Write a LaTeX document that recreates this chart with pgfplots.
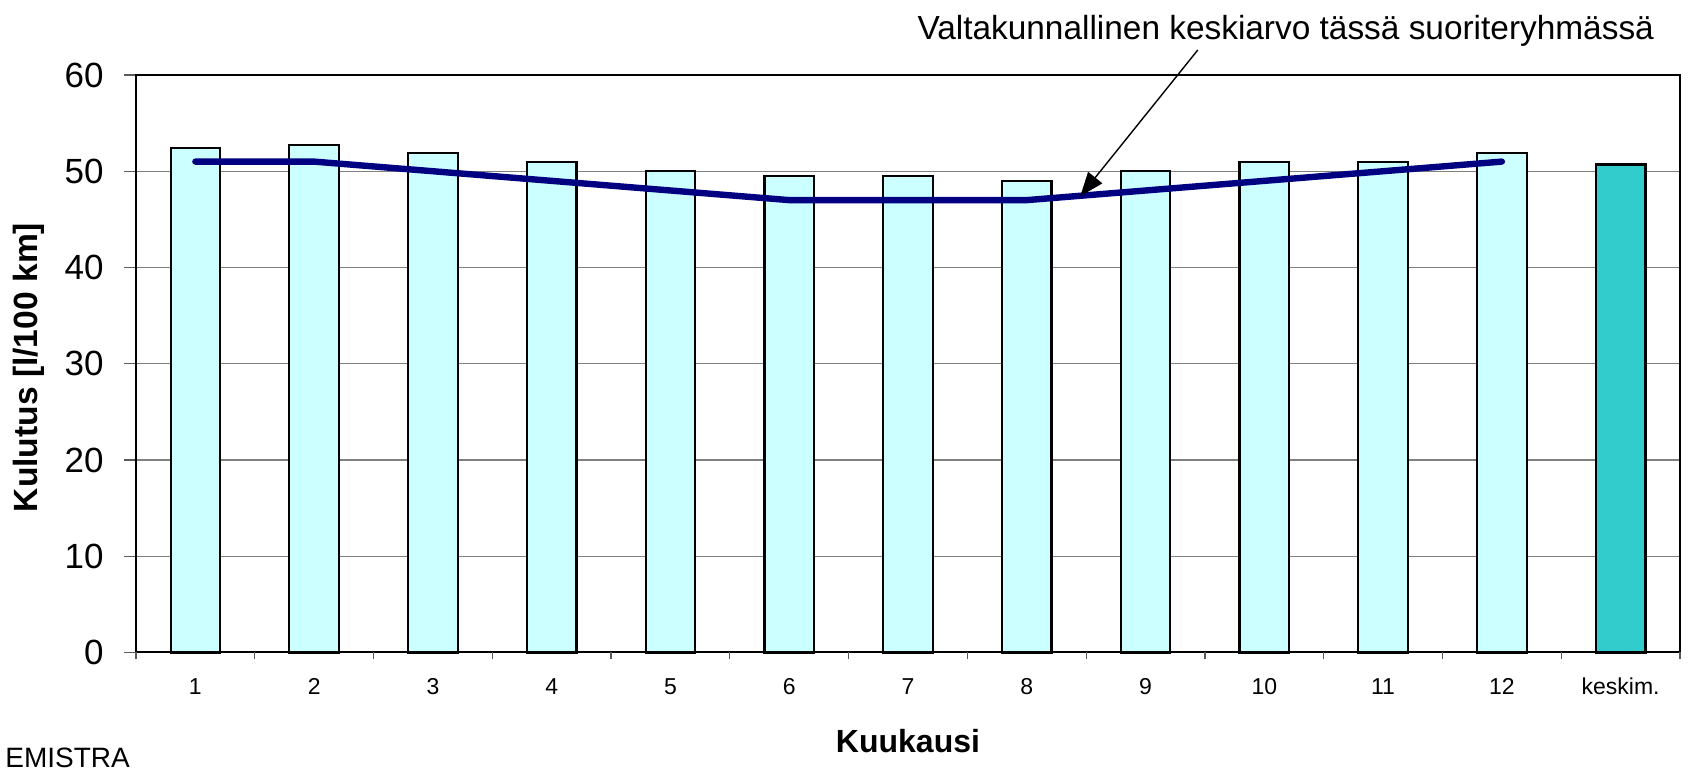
\documentclass[border=0pt]{standalone}
\usepackage{fontspec}
\setmainfont{Liberation Sans}
\usepackage{pgfplots}
\pgfplotsset{compat=1.18}
\usetikzlibrary{arrows.meta}
\definecolor{barlight}{RGB}{204,255,255}
\definecolor{bardark}{RGB}{51,204,204}
\definecolor{navyline}{RGB}{0,0,128}
\definecolor{gridgray}{RGB}{128,128,128}

\begin{document}
\begin{tikzpicture}
\begin{axis}[
  name=ax,
  width=772pt, height=288.75pt, scale only axis,
  xmin=-0.5, xmax=12.5, ymin=0, ymax=60,
  clip=false,
  axis line style={black, line width=1pt},
  tick pos=left,
  xtick={0,...,12},
  xticklabels={1,2,3,4,5,6,7,8,9,10,11,12,keskim.},
  xtick style={draw=none},
  extra x ticks={-0.5,0.5,...,12.5},
  extra x tick labels={},
  extra x tick style={major tick length=3.5pt, xtick style={draw=gridgray!70!black, line width=0.6pt}, grid=none},
  ytick={0,10,...,60},
  ymajorgrids,
  major grid style={gridgray, line width=0.6pt},
  tick align=outside,
  major tick length=6pt,
  ytick style={draw=gridgray!70!black, line width=0.6pt},
  /pgf/number format/assume math mode=true,
  yticklabel style={font=\fontsize{17.5}{20}\selectfont, inner sep=0pt, anchor=east, xshift=-10pt},
  xticklabel style={font=\fontsize{11.5}{13}\selectfont, inner sep=0pt, anchor=base, yshift=-15.25pt},
]
\addplot[ybar, bar width=0.417, fill=barlight, draw=black, line width=1.1pt]
  coordinates {(0,52.4) (1,52.7) (2,51.9) (3,51.0) (4,50.0) (5,49.5) (6,49.5) (7,49.0) (8,50.0) (9,51.0) (10,51.0) (11,51.9)};
\addplot[ybar, bar width=0.417, fill=bardark, draw=black, line width=1.1pt]
  coordinates {(12,50.7)};
\addplot[navyline, line width=3.2pt, line cap=round, line join=round, mark=none]
  coordinates {(0,51) (1,51) (2,50) (3,49) (4,48) (5,47) (6,47) (7,47) (8,48) (9,49) (10,50) (11,51)};
\draw[-{Triangle[length=12pt,width=9pt]}, line width=0.7pt] (axis cs:8.44,62.6) -- (axis cs:7.45,47.4);
\node[anchor=base, inner sep=0pt, font=\fontsize{16.7}{20}\selectfont] at (axis cs:9.18,63.64) {Valtakunnallinen keskiarvo tässä suoriteryhmässä};
\end{axis}
\node[anchor=base, inner sep=0pt, font=\fontsize{16}{19}\selectfont\bfseries] at ([yshift=-50.25pt]ax.south) {Kuukausi};
\node[rotate=90, anchor=center, inner sep=0pt, font=\fontsize{16.8}{20}\selectfont\bfseries] at ([xshift=-53.5pt,yshift=-1.9pt]ax.west) {Kulutus [l/100 km]};
\node[anchor=base west, inner sep=0pt, font=\fontsize{14}{17}\selectfont] at ([xshift=-65.5pt,yshift=-57.75pt]ax.south west) {EMISTRA};
\pgfresetboundingbox
\path[use as bounding box] ([xshift=-68pt,yshift=-60.75pt]ax.south west) rectangle ([xshift=4.5pt,yshift=37.5pt]ax.north east);
\end{tikzpicture}
\end{document}
